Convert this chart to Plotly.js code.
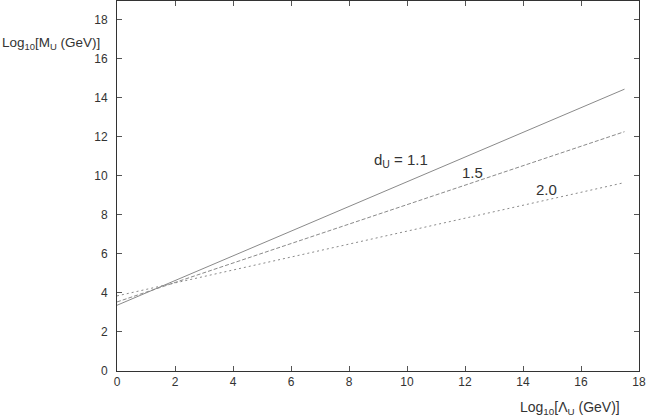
<!DOCTYPE html>
<html>
<head>
<meta charset="utf-8">
<script src="https://cdn.plot.ly/plotly-3.0.1.min.js"></script>
<style>
  html, body { margin: 0; padding: 0; background: #fff; }
  #chart { width: 646px; height: 420px; }
</style>
</head>
<body>
<div id="chart"></div>
<script>
// log10 of Lambda_U (GeV), line endpoints
var lambdaLog = [0, 17.5]
// log10 of M_U (GeV) for each scaling dimension d_U
var mu11 = [3.37, 14.45]
var mu15 = [3.54, 12.27]
var mu20 = [3.85, 9.66]
var lineLabels = ['d<sub>U</sub> = 1.1', '1.5', '2.0']
var labelX = [9.8, 12.25, 14.8]
var labelY = [10.8, 10.2, 9.3]
var tickVals = [0, 2, 4, 6, 8, 10, 12, 14, 16, 18]

var lineColor = '#8a8a8a'
var font = 'Liberation Sans, Arial, Helvetica, sans-serif'

function mkLine(y, dash) {
  return {
    x: lambdaLog,
    y: y,
    mode: 'lines',
    type: 'scatter',
    line: { color: lineColor, width: 1, dash: dash },
    hoverinfo: 'skip'
  }
}

var data = [
  mkLine(mu11, 'solid'),
  mkLine(mu15, '4px,2px'),
  mkLine(mu20, '2px,3px')
]

var annos = []
for (var i = 0; i < lineLabels.length; i++) {
  annos.push({
    x: labelX[i], y: labelY[i], xref: 'x', yref: 'y',
    text: lineLabels[i], showarrow: false,
    font: { family: font, size: 15, color: '#333' }
  })
}
// axis titles sit as free text, like the original
annos.push({
  xref: 'paper', yref: 'paper', x: -117 / 522, y: 0.885,
  xanchor: 'left', yanchor: 'middle', showarrow: false,
  text: 'Log<sub>10</sub>[M<sub>U</sub> (GeV)]',
  font: { family: font, size: 13.5, color: '#333' }
})
annos.push({
  xref: 'paper', yref: 'paper', x: 0.967, y: -0.1,
  xanchor: 'right', yanchor: 'middle', showarrow: false,
  text: 'Log<sub>10</sub>[\u039B<sub>U</sub> (GeV)]',
  font: { family: font, size: 14, color: '#333' }
})

var axisCommon = {
  showgrid: false,
  zeroline: false,
  showline: true,
  mirror: 'ticks',
  linecolor: '#333',
  linewidth: 1,
  ticks: 'inside',
  ticklen: 5,
  tickcolor: '#555',
  tickmode: 'array',
  tickvals: tickVals,
  ticklabeloverflow: 'allow',
  tickfont: { family: font, size: 12, color: '#333' }
}

var layout = {
  width: 646,
  height: 420,
  margin: { l: 117, r: 7, t: 1, b: 49 },
  paper_bgcolor: '#fff',
  plot_bgcolor: '#fff',
  showlegend: false,
  xaxis: Object.assign({}, axisCommon, { range: [0, 18] }),
  yaxis: Object.assign({}, axisCommon, { range: [0, 18.97], ticklabelstandoff: 6 }),
  annotations: annos
}

Plotly.newPlot('chart', data, layout, { staticPlot: true })
</script>
</body>
</html>
